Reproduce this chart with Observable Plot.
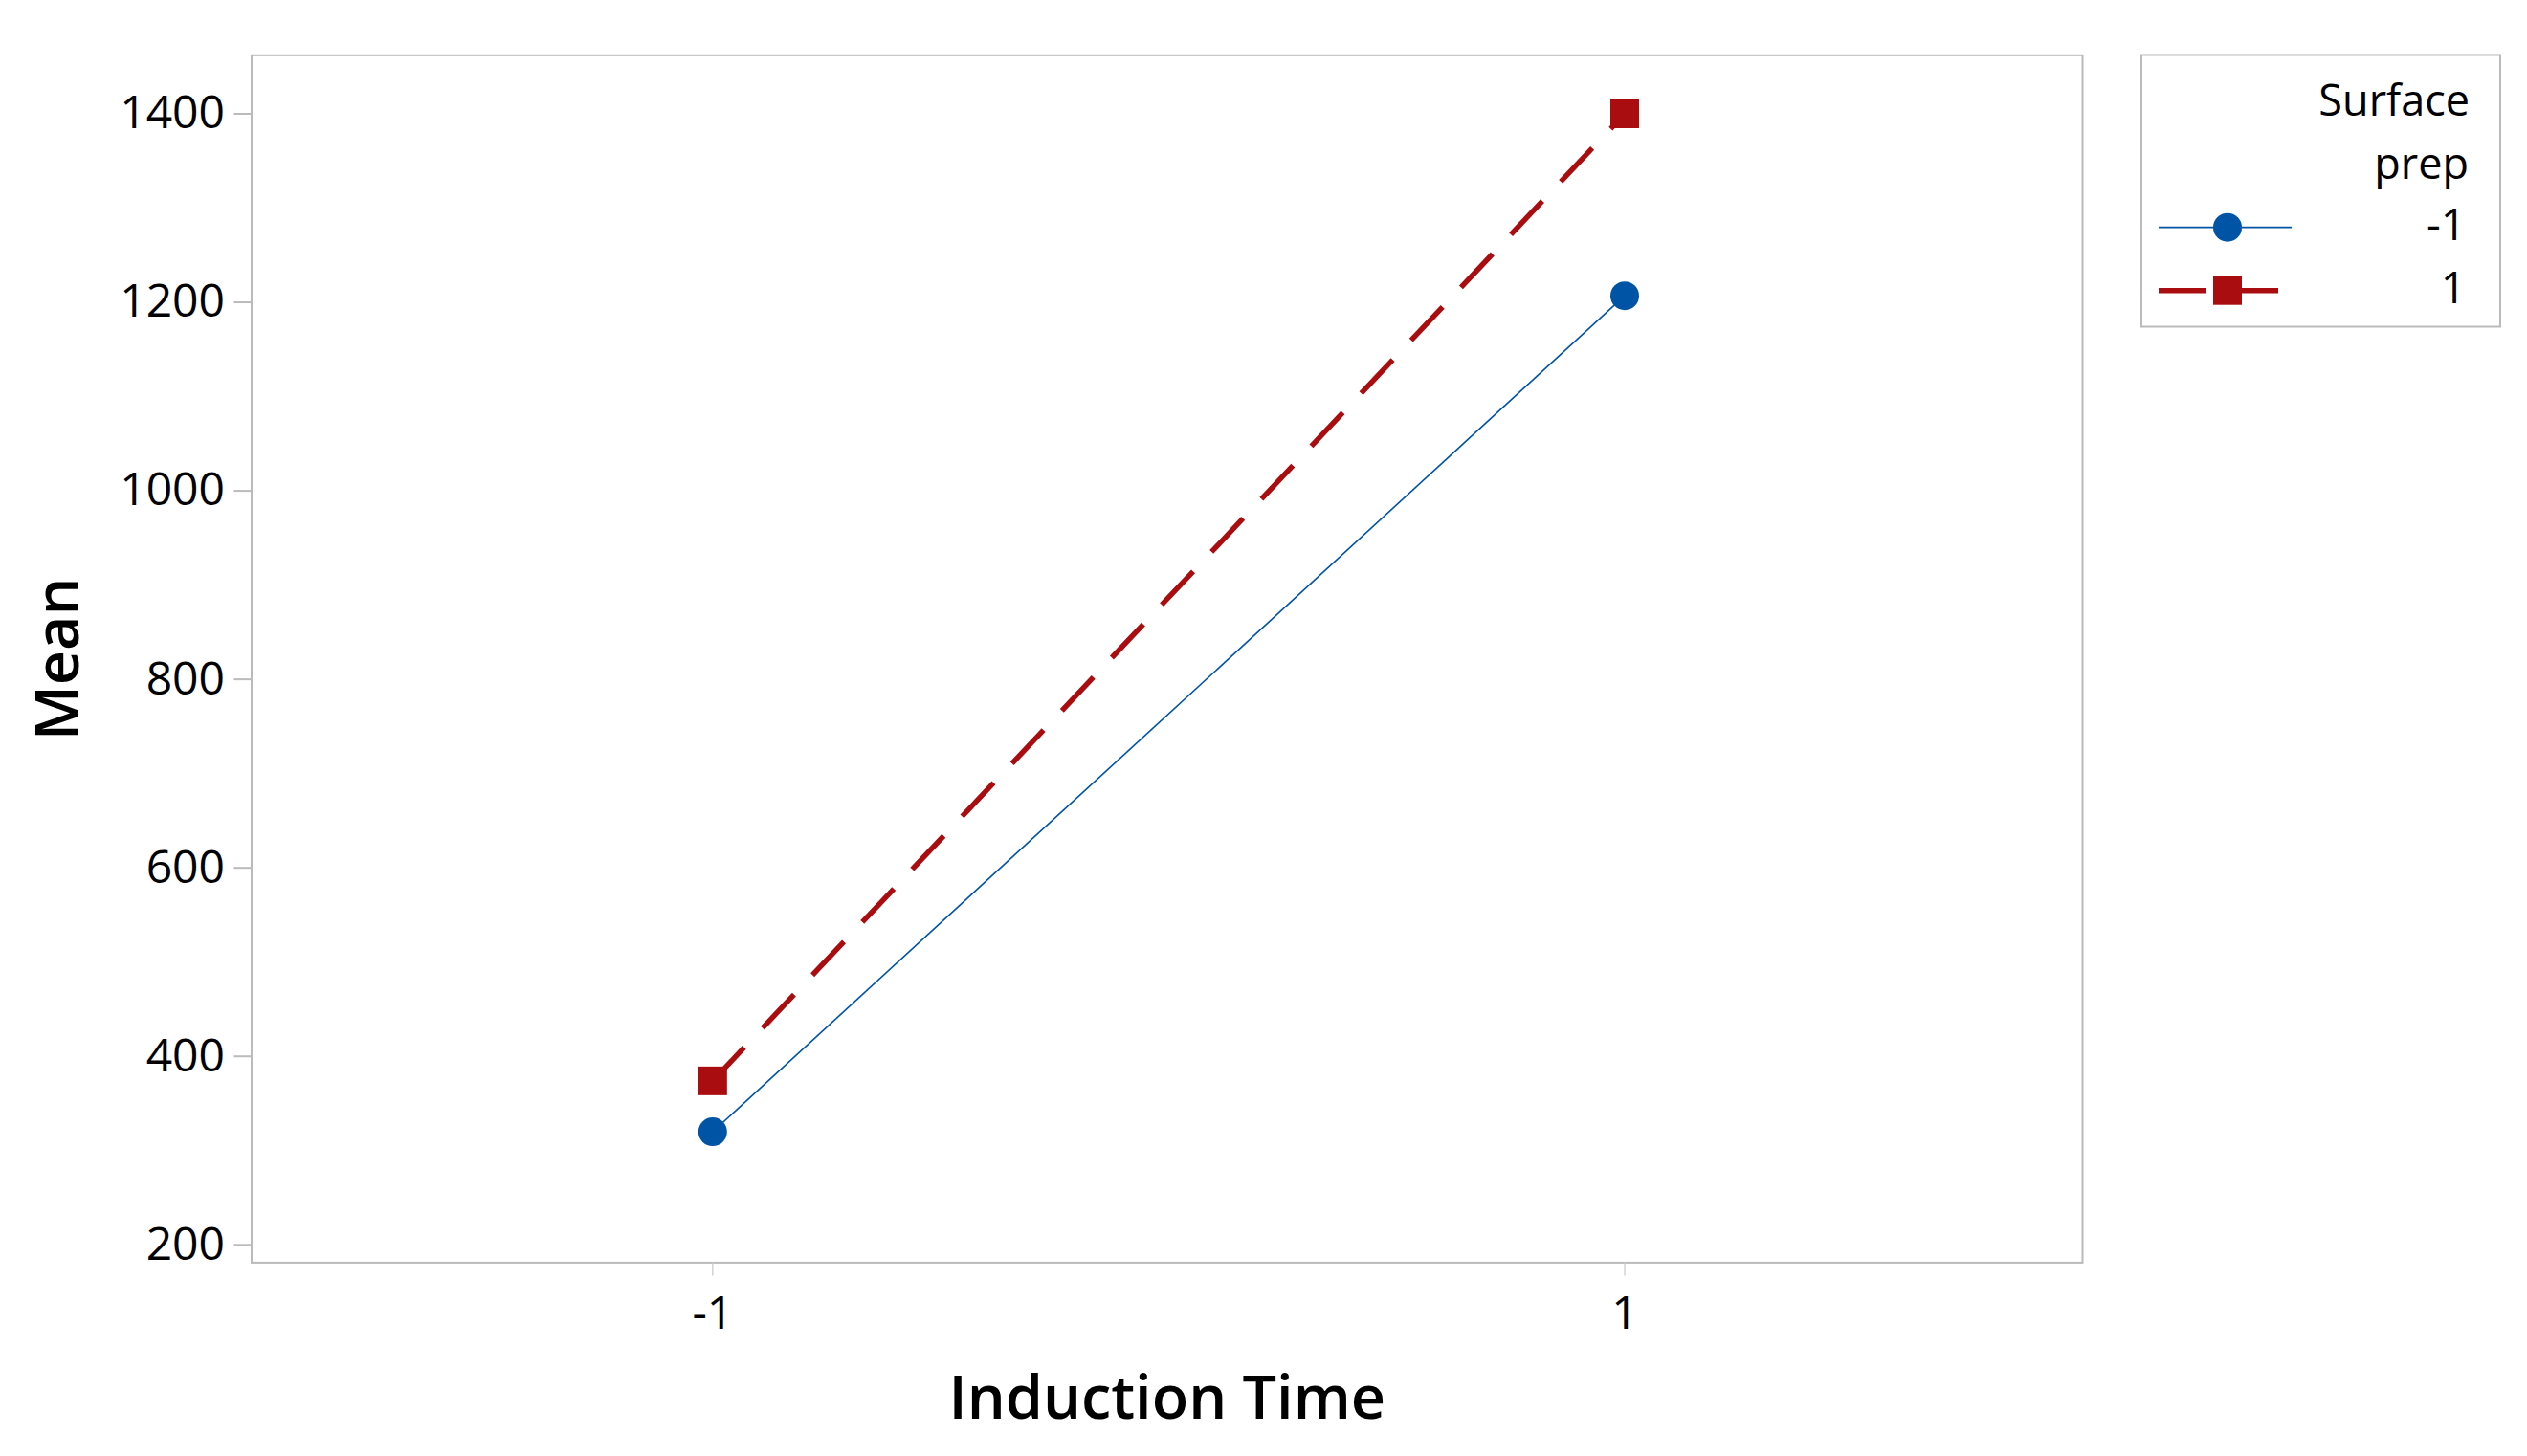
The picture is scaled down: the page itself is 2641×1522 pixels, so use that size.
<!DOCTYPE html>
<html>
<head>
<meta charset="utf-8">
<script src="https://cdn.jsdelivr.net/npm/d3@7"></script>
<script src="https://cdn.jsdelivr.net/npm/@observablehq/plot@0.6"></script>
<style>
  html, body { margin: 0; padding: 0; background: #fff; }
  #chart { position: relative; width: 2641px; height: 1522px; }
  svg { font-family: "Open Sans", "Noto Sans", sans-serif; }
</style>
</head>
<body>
<div id="chart"></div>
<script>
// ---- data ----
const inductionTime = [-1, 1];
const xTickLabels = ["-1", "1"];
const yTicks = [200, 400, 600, 800, 1000, 1200, 1400];
const prepLevels = ["-1", "1"];
const meanPrepMinus1 = [320, 1207];
const meanPrepPlus1 = [374, 1400];
const seriesColors = ["#0054A6", "#A90D0F"];
const seriesSymbols = ["circle", "square"];
const xTitle = "Induction Time";
const yTitle = "Mean";
const legendTitle = ["Surface", "prep"];

const rows = [];
[meanPrepMinus1, meanPrepPlus1].forEach((vals, s) => {
  vals.forEach((v, i) => rows.push({x: inductionTime[i], y: v, prep: prepLevels[s]}));
});
const rowsA = rows.filter(d => d.prep === prepLevels[0]);
const rowsB = rows.filter(d => d.prep === prepLevels[1]);

const W = 2641, H = 1522;
const mL = 262.5, mR = W - 2176, mT = 57.3, mB = H - 1319.4;

const plot = Plot.plot({
  width: W, height: H,
  marginLeft: mL, marginRight: mR, marginTop: mT, marginBottom: mB,
  style: {fontFamily: '"Open Sans", "Noto Sans", sans-serif', color: "#000", background: "#fff"},
  x: {type: "linear", domain: [-2.011, 2.004]},
  y: {type: "linear", domain: [181.1, 1462.1]},
  marks: [
    Plot.frame({stroke: "#BBBBBB", strokeWidth: 2}),
    Plot.axisY({ticks: yTicks, tickSize: 18, tickPadding: 10, stroke: "#BBBBBB", strokeWidth: 2,
      fontSize: 48, tickFormat: d => String(d), label: null, fill: "#000"}),
    Plot.axisX({ticks: inductionTime, tickSize: 14, tickPadding: 21, stroke: "#C8C8C8", strokeWidth: 1.2,
      fontSize: 48, tickFormat: (d) => xTickLabels[inductionTime.indexOf(d)], label: null, fill: "#000"}),
    Plot.text([xTitle], {frameAnchor: "bottom", dy: 118.5, lineAnchor: "top", textAnchor: "middle", fontSize: 63, fontWeight: 600, fill: "#000"}),
    Plot.text([yTitle], {frameAnchor: "left", dx: -225.5, rotate: -90, lineAnchor: "top", textAnchor: "middle", fontSize: 63, fontWeight: 600, fill: "#000"}),
    Plot.line(rowsA, {x: "x", y: "y", stroke: seriesColors[0], strokeWidth: 1.6}),
    Plot.line(rowsB, {x: "x", y: "y", stroke: seriesColors[1], strokeWidth: 5.5, strokeDasharray: "48,28", strokeLinecap: "butt"}),
    Plot.dot(rowsA, {x: "x", y: "y", symbol: seriesSymbols[0], r: 15, fill: seriesColors[0], stroke: "none"}),
    Plot.dot(rowsB, {x: "x", y: "y", symbol: seriesSymbols[1], r: 30 / Math.sqrt(Math.PI), fill: seriesColors[1], stroke: "none"})
  ]
});
document.getElementById("chart").appendChild(plot);

// ---- legend (drawn into the same svg) ----
const svg = d3.select(plot);
const lg = svg.append("g").attr("class", "legend");
lg.append("rect").attr("x", 2238).attr("y", 57.5).attr("width", 375).attr("height", 284)
  .attr("fill", "#fff").attr("stroke", "#BBBBBB").attr("stroke-width", 2);
lg.append("text").attr("x", 2581).attr("y", 120.5).attr("text-anchor", "end")
  .attr("font-size", 45).attr("fill", "#000").text(legendTitle[0]);
lg.append("text").attr("x", 2580).attr("y", 186.5).attr("text-anchor", "end")
  .attr("font-size", 45).attr("fill", "#000").text(legendTitle[1]);
const rowY = [237.7, 303.7];
prepLevels.forEach((lvl, i) => {
  const y = rowY[i];
  const line = lg.append("line").attr("x1", 2256).attr("x2", 2395 - (i === 1 ? 14 : 0))
    .attr("y1", y).attr("y2", y).attr("stroke", seriesColors[i]);
  if (i === 0) line.attr("stroke-width", 1.7);
  else line.attr("stroke-width", 5.5).attr("stroke-dasharray", "49,28");
  if (seriesSymbols[i] === "circle") {
    lg.append("circle").attr("cx", 2328).attr("cy", y).attr("r", 15).attr("fill", seriesColors[i]);
  } else {
    lg.append("rect").attr("x", 2313).attr("y", y - 15).attr("width", 30).attr("height", 30).attr("fill", seriesColors[i]);
  }
  lg.append("text").attr("x", 2577).attr("y", y + 13.5).attr("text-anchor", "end")
    .attr("font-size", 46).attr("fill", "#000").text(lvl);
});
</script>
</body>
</html>
